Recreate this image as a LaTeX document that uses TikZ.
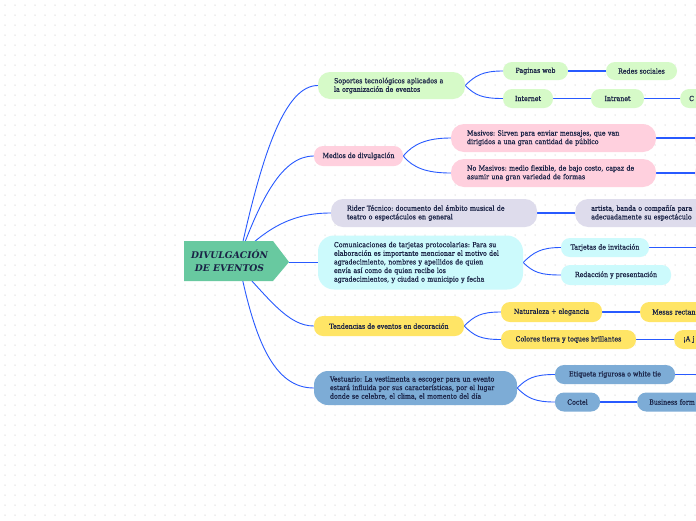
\documentclass[tikz,border=0pt]{standalone}
\usepackage{fontspec}
\setmainfont{DejaVu Serif Condensed}[RawFeature={embolden=0.6}]
\newfontfamily\titlefont{DejaVu Serif}
\definecolor{cgreen}{RGB}{214,250,200}
\definecolor{cpink}{RGB}{255,208,222}
\definecolor{clav}{RGB}{222,220,236}
\definecolor{ccyan}{RGB}{204,250,252}
\definecolor{cyellow}{RGB}{255,229,102}
\definecolor{cblue}{RGB}{125,172,214}
\definecolor{ctitle}{RGB}{104,201,160}
\definecolor{ink}{RGB}{26,35,70}
\definecolor{link}{RGB}{40,90,255}
\definecolor{dotc}{RGB}{222,222,222}
\newcommand\nfont{\fontsize{7}{8.6}\selectfont\frenchspacing}
\pgfdeclarelayer{bg}
\pgfsetlayers{bg,main}
\tikzset{
 box/.style={rounded corners=9pt, text=ink, font=\nfont, inner sep=0pt, align=center, minimum height=19pt},
 multi/.style={box, align=left, rounded corners=12pt},
 edgebox/.style={box, anchor=west, align=left, inner xsep=12pt, text width=70pt},
 curve/.style={draw=link, line width=0.9pt},
 bar/.style={draw=link, line width=1.4pt},
}
\begin{document}
\begin{tikzpicture}[x=1pt,y=-1pt]
\useasboundingbox (0,0) rectangle (696,520);
\begin{pgfonlayer}{bg}
\fill[white] (0,0) rectangle (696,520);
\foreach \i in {0,...,69}{\foreach \j in {0,...,51}{\fill[dotc] (5+\i*10,5+\j*10) circle (0.75);}}
\end{pgfonlayer}
% title
\fill[ctitle] (184,241) -- (273,241) -- (289,262) -- (273,281) -- (184,281) -- cycle;
\node[text=ink, font=\titlefont\fontsize{9.2}{13.5}\selectfont\bfseries\itshape, align=center, inner sep=0pt] (title) at (229.5,261) {DIVULGACIÓN\\DE EVENTOS};
\coordinate (tip) at (289,262.5);
\coordinate (rt) at (240,255);
\coordinate (rb) at (240,268);
% level 1
\node[multi, fill=cgreen, minimum width=147pt, minimum height=27pt, text width=115pt] (sop) at (391.5,85.5) {Soportes tecnológicos aplicados a\\la organización de eventos};
\node[box, fill=cpink, minimum width=89pt, minimum height=20pt] (med) at (358.5,156) {Medios de divulgación};
\node[multi, fill=clav, minimum width=206pt, minimum height=28pt, text width=174pt] (rider) at (434,213) {Rider Técnico: documento del ámbito musical de\\teatro o espectáculos en general};
\node[multi, fill=ccyan, minimum width=205pt, minimum height=54pt, text width=173pt, rounded corners=16pt] (comm) at (420.5,262.5) {Comunicaciones de tarjetas protocolarias: Para su\\elaboración es importante mencionar el motivo del\\agradecimiento, nombres y apellidos de quien\\envía así como de quien recibe los\\agradecimientos, y ciudad o municipio y fecha};
\node[box, fill=cyellow, minimum width=150pt, minimum height=20pt] (tend) at (389,326) {Tendencias de eventos en decoración};
\node[multi, fill=cblue, minimum width=203pt, minimum height=34pt, text width=171pt, rounded corners=14pt] (vest) at (415.5,388) {Vestuario: La vestimenta a escoger para un evento\\estará influida por sus características, por el lugar\\donde se celebre, el clima, el momento del día};
% level 2 and 3
\node[box, fill=cgreen, minimum width=65pt, minimum height=18pt] (pag) at (535.5,71) {Paginas web};
\node[box, fill=cgreen, minimum width=71pt, minimum height=18pt] (red) at (641.5,71) {Redes sociales};
\node[box, fill=cgreen, minimum width=50pt] (int) at (528,98.5) {Internet};
\node[box, fill=cgreen, minimum width=53pt] (intra) at (617.5,98.5) {Intranet};
\node[edgebox, fill=cgreen, inner xsep=9pt, text width=60pt] (cor) at (680,98.5) {C};
\node[multi, fill=cpink, minimum width=205pt, minimum height=28pt, text width=173pt, rounded corners=13pt] (mas) at (553.5,138) {Masivos: Sirven para enviar mensajes, que van\\dirigidos a una gran cantidad de público};
\node[multi, fill=cpink, minimum width=205pt, minimum height=28pt, text width=173pt, rounded corners=13pt] (nomas) at (553.5,173) {No Masivos: medio flexible, de bajo costo, capaz de\\asumir una gran variedad de formas};
\node[box, fill=cpink, anchor=west, minimum width=100pt, minimum height=28pt, rounded corners=13pt] (masr) at (695,138) {};
\node[box, fill=cpink, anchor=west, minimum width=100pt, minimum height=28pt, rounded corners=13pt] (nomasr) at (695,173) {};
\node[box, fill=clav, anchor=west, align=left, inner xsep=16pt, text width=160pt, minimum height=28pt, rounded corners=13pt] (art) at (575,213) {artista, banda o compañía para\\adecuadamente su espectáculo};
\node[box, fill=ccyan, minimum width=88pt] (tar) at (605,247.5) {Tarjetas de invitación};
\node[box, fill=ccyan, minimum width=110pt, minimum height=20pt] (redac) at (616,275) {Redacción y presentación};
\coordinate (tarr) at (700,247.5);
\node[box, fill=cyellow, minimum width=101pt, minimum height=20pt] (nat) at (551.5,312) {Naturaleza + elegancia};
\node[edgebox, fill=cyellow, minimum height=20pt] (mes) at (640,312) {Mesas rectan};
\node[box, fill=cyellow, minimum width=135pt] (col) at (568.5,339.5) {Colores tierra y toques brillantes};
\node[edgebox, fill=cyellow, inner xsep=9pt] (aj) at (674,339.5) {¡A j};
\node[box, fill=cblue, minimum width=120pt] (etq) at (615,374.5) {Etiqueta rigurosa o white tie};
\coordinate (etqr) at (700,374.5);
\node[box, fill=cblue, minimum width=45pt] (coc) at (577.5,402) {Coctel};
\node[edgebox, fill=cblue] (bus) at (637,402) {Business form};
% connectors
\begin{pgfonlayer}{bg}
\draw[curve] (rt) .. controls +(22,-101) and +(-33,0) .. (sop.west);
\draw[curve] (rt) .. controls +(21,-56) and +(-32,0) .. (med.west);
\draw[curve] (rt) .. controls +(30,-30) and +(-35,0) .. (rider.west);
\draw[curve] (tip) -- (comm.west);
\draw[curve] (rb) .. controls +(30,32) and +(-25,0) .. (tend.west);
\draw[curve] (rb) .. controls +(15,72) and +(-40,0) .. (vest.west);
\draw[curve] (sop.east) .. controls +(10,-10) and +(-20,0) .. (pag.west);
\draw[curve] (sop.east) .. controls +(10,10) and +(-20,0) .. (int.west);
\draw[curve] (med.east) .. controls +(10,-12) and +(-24,0) .. (mas.west);
\draw[curve] (med.east) .. controls +(10,12) and +(-24,0) .. (nomas.west);
\draw[curve] (comm.east) .. controls +(10,-10) and +(-20,0) .. (tar.west);
\draw[curve] (comm.east) .. controls +(10,10) and +(-20,0) .. (redac.west);
\draw[curve] (tend.east) .. controls +(10,-10) and +(-20,0) .. (nat.west);
\draw[curve] (tend.east) .. controls +(10,10) and +(-20,0) .. (col.west);
\draw[curve] (vest.east) .. controls +(10,-10) and +(-20,0) .. (etq.west);
\draw[curve] (vest.east) .. controls +(10,10) and +(-20,0) .. (coc.west);
\draw[bar] (pag.east) -- (red.west);
\draw[bar] (int.east) -- (intra.west);
\draw[bar] (intra.east) -- (cor.west);
\draw[bar] (mas.east) -- (masr.west);
\draw[bar] (nomas.east) -- (nomasr.west);
\draw[bar] (rider.east) -- (art.west);
\draw[bar] (tar.east) -- (tarr);
\draw[bar] (nat.east) -- (mes.west);
\draw[bar] (col.east) -- (aj.west);
\draw[bar] (etq.east) -- (etqr);
\draw[bar] (coc.east) -- (bus.west);
\end{pgfonlayer}
\end{tikzpicture}
\end{document}
